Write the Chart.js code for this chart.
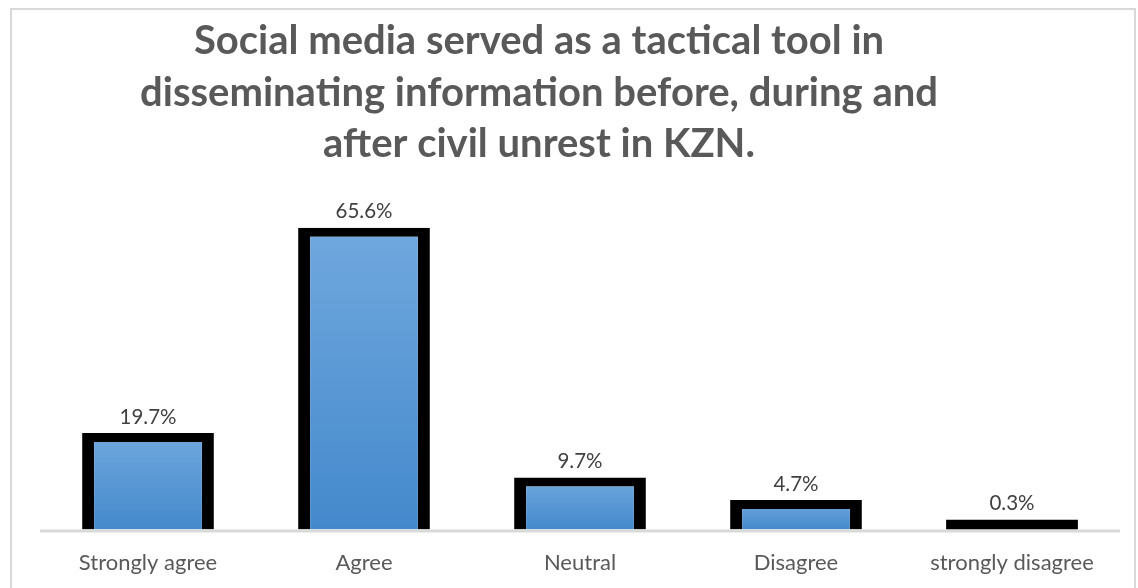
<!DOCTYPE html>
<html>
<head>
<meta charset="utf-8">
<script src="https://cdn.jsdelivr.net/npm/chart.js@4.4.1/dist/chart.umd.min.js"></script>
<style>
  html, body { margin: 0; padding: 0; background: #fff; }
  #frame {
    position: absolute; left: 10px; top: 8px;
    width: 1122px; height: 600px;
    border: 2px solid #d9d9d9;
  }
  #wrap { position: absolute; left: 0; top: 0; width: 1138px; height: 588px; }
</style>
</head>
<body>
<div id="frame"></div>
<div id="wrap"><canvas id="myChart" width="1138" height="588"></canvas></div>
<script>
// Datos de la encuesta
var categories = ['Strongly agree', 'Agree', 'Neutral', 'Disagree', 'strongly disagree'];
var percentages = [19.7, 65.6, 9.7, 4.7, 0.3];
var titleLines = [
  'Social media served as a tactical tool in',
  'disseminating information before, during and',
  'after civil unrest in KZN.'
];

// Las barras arrancan un poco por debajo de cero para que el borde grueso quede por encima del valor
var Y_MIN = -1.93;
var Y_MAX = 70;
var BORDER_TOP = 9;
var TEXT_COLOR = '#595959';

Chart.defaults.font.family = 'Lato, "Open Sans", sans-serif';
Chart.defaults.color = TEXT_COLOR;

// Título en tres líneas, dibujado a mano
var titlePlugin = {
  id: 'titleLines',
  afterDraw: function(chart) {
    var ctx = chart.ctx;
    ctx.save();
    ctx.fillStyle = TEXT_COLOR;
    ctx.font = 'bold 40px Lato, "Open Sans", sans-serif';
    ctx.textAlign = 'center';
    ctx.textBaseline = 'alphabetic';
    for (var i = 0; i < titleLines.length; i++) {
      ctx.fillText(titleLines[i], 539, 54 + i * 51.5);
    }
    ctx.restore();
  }
};

// Línea del eje, solo bajo el área de las barras
var axisLine = {
  id: 'axisLine',
  beforeDatasetsDraw: function(chart) {
    var a = chart.chartArea;
    var ctx = chart.ctx;
    ctx.save();
    ctx.strokeStyle = '#d9d9d9';
    ctx.lineWidth = 3;
    ctx.beginPath();
    ctx.moveTo(a.left, a.bottom + 1.5);
    ctx.lineTo(a.right, a.bottom + 1.5);
    ctx.stroke();
    ctx.restore();
  }
};

// Etiquetas de porcentaje encima de cada barra
var valueLabels = {
  id: 'valueLabels',
  afterDatasetsDraw: function(chart) {
    var ctx = chart.ctx;
    var meta = chart.getDatasetMeta(0);
    ctx.save();
    ctx.fillStyle = '#404040';
    ctx.font = '20.5px Lato, "Open Sans", sans-serif';
    ctx.textAlign = 'center';
    ctx.textBaseline = 'middle';
    meta.data.forEach(function(bar, i) {
      ctx.fillText(percentages[i].toFixed(1) + '%', bar.x, bar.y - 16);
    });
    ctx.restore();
  }
};

// Barras tan bajas que el borde se come el relleno: se pintan enteras en negro
function isThin(c) {
  var chart = c.chart;
  if (!chart.chartArea || c.type !== 'data') return false;
  var y = chart.scales.y;
  return y.getPixelForValue(Y_MIN) - y.getPixelForValue(c.raw) < 2 * BORDER_TOP + 2;
}

// Degradado azul por barra (más claro arriba)
function barFill(c) {
  var chart = c.chart;
  if (!chart.chartArea || c.type !== 'data') return '#5b9bd5';
  if (isThin(c)) return '#000';
  var y = chart.scales.y;
  var g = chart.ctx.createLinearGradient(0, y.getPixelForValue(c.raw), 0, y.getPixelForValue(Y_MIN));
  g.addColorStop(0, '#70a8de');
  g.addColorStop(1, '#4489cc');
  return g;
}

function barBorder(c) {
  if (isThin(c)) return 0;
  return { top: BORDER_TOP, left: 12, right: 12, bottom: 0 };
}

var ctx = document.getElementById('myChart').getContext('2d');
var myChart = new Chart(ctx, {
  type: 'bar',
  data: {
    labels: categories,
    datasets: [{
      data: percentages,
      base: Y_MIN,
      backgroundColor: barFill,
      borderColor: '#000',
      borderWidth: barBorder,
      borderSkipped: 'start',
      categoryPercentage: 1,
      barPercentage: 0.61
    }]
  },
  options: {
    responsive: false,
    animation: false,
    layout: { padding: { left: 40, right: 18, top: 208, bottom: -8 } },
    plugins: {
      legend: { display: false },
      title: { display: false },
      tooltip: { enabled: false }
    },
    scales: {
      x: {
        grid: { display: false, drawTicks: false },
        border: { display: false },
        ticks: { color: TEXT_COLOR, font: { size: 22 }, padding: 20 }
      },
      y: {
        display: false,
        min: Y_MIN,
        max: Y_MAX
      }
    }
  },
  plugins: [titlePlugin, axisLine, valueLabels]
});
</script>
</body>
</html>
